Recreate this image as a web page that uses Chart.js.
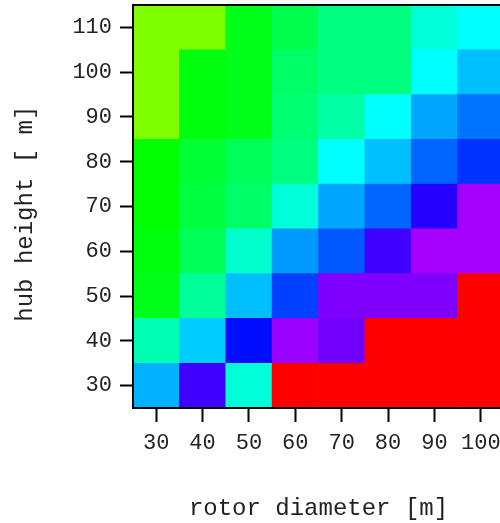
<!DOCTYPE html>
<html>
<head>
<meta charset="utf-8">
<script src="https://cdn.jsdelivr.net/npm/chart.js@4.4.1/dist/chart.umd.min.js"></script>
<style>
    html, body { margin: 0; padding: 0; overflow: hidden; background: #fff; }
    canvas { display: block; }
</style>
</head>
<body>
<canvas id="canvas-hub-rotor" width="520" height="523"></canvas>
<script>
// x: rotor diameter [m], y: hub height [m]
var rotorDiameters = [30, 40, 50, 60, 70, 80, 90, 100];
var hubHeights = [30, 40, 50, 60, 70, 80, 90, 100, 110];
var yTicks = [30, 40, 50, 60, 70, 80, 90, 100, 110];

// cell values (0 = red ... 1 = yellow), one list per hub height
var row30  = [0.54, 0.35, 0.63, 0.00, 0.00, 0.00, 0.00, 0.00];
var row40  = [0.66, 0.56, 0.41, 0.28, 0.31, 0.00, 0.00, 0.00];
var row50  = [0.78, 0.68, 0.55, 0.45, 0.30, 0.30, 0.30, 0.00];
var row60  = [0.79, 0.73, 0.64, 0.52, 0.47, 0.35, 0.27, 0.27];
var row70  = [0.80, 0.75, 0.72, 0.63, 0.53, 0.48, 0.37, 0.27];
var row80  = [0.80, 0.76, 0.73, 0.70, 0.60, 0.55, 0.48, 0.44];
var row90  = [0.90, 0.79, 0.78, 0.71, 0.67, 0.60, 0.53, 0.49];
var row100 = [0.90, 0.79, 0.78, 0.72, 0.70, 0.70, 0.60, 0.55];
var row110 = [0.90, 0.90, 0.78, 0.74, 0.70, 0.70, 0.63, 0.60];
var cellValues = [row30, row40, row50, row60, row70, row80, row90, row100, row110];

// red -> magenta -> blue -> cyan -> green -> yellow
function valueColor(v){
    var hue = 360 - 300 * v;
    return 'hsl(' + hue.toFixed(1) + ', 100%, 50%)';
}

var cellSize = 10;
var datasets = hubHeights.map(function(h, i){
    return {
        label: h + ' m',
        data: rotorDiameters.map(function(){ return [h - cellSize / 2, h + cellSize / 2]; }),
        backgroundColor: cellValues[i].map(valueColor),
        borderWidth: 0,
        grouped: false,
        barPercentage: 1.0,
        categoryPercentage: 1.0
    };
});

// box round the plot area
var frame = {
    id: 'frame',
    afterDatasetsDraw: function(chart){
        var a = chart.chartArea, ctx = chart.ctx;
        ctx.save();
        ctx.strokeStyle = '#000';
        ctx.lineWidth = 2;
        ctx.strokeRect(a.left, a.top, a.right - a.left, a.bottom - a.top);
        ctx.restore();
    }
};

Chart.defaults.font.family = "'Liberation Mono', 'DejaVu Sans Mono', monospace";
Chart.defaults.color = '#222';

var ctx = document.getElementById('canvas-hub-rotor').getContext('2d');
var chart = new Chart(ctx, {
    type: 'bar',
    data: {
        labels: rotorDiameters.map(String),
        datasets: datasets
    },
    plugins: [frame],
    options: {
        responsive: false,
        animation: false,
        devicePixelRatio: 1,
        layout: { padding: { left: 0, top: 5, right: 16, bottom: 0 } },
        plugins: {
            legend: { display: false },
            tooltip: { enabled: false }
        },
        scales: {
            x: {
                grid: { offset: false, drawOnChartArea: false, drawTicks: true, tickLength: 14, tickWidth: 2, tickColor: '#000' },
                border: { display: false },
                ticks: { font: { size: 22 }, padding: 8, maxRotation: 0 },
                title: { display: true, text: 'rotor diameter [m]', font: { size: 24 }, padding: { top: 0, bottom: 0 } },
                afterFit: function(scale){
                    scale.height = 115;
                    scale.paddingLeft = 0;
                    scale.paddingRight = 0;
                }
            },
            y: {
                min: 25,
                max: 115,
                grid: { drawOnChartArea: false, drawTicks: true, tickLength: 13, tickWidth: 2, tickColor: '#000' },
                border: { display: false },
                ticks: { font: { size: 22 }, padding: 8 },
                afterBuildTicks: function(scale){
                    scale.ticks = yTicks.map(function(v){ return { value: v }; });
                },
                title: { display: true, text: 'hub height [ m] ', font: { size: 24 }, padding: { top: 11, bottom: 0 } },
                afterFit: function(scale){
                    scale.width = 133;
                    scale.paddingTop = 0;
                    scale.paddingBottom = 0;
                }
            }
        }
    }
});
</script>
</body>
</html>
